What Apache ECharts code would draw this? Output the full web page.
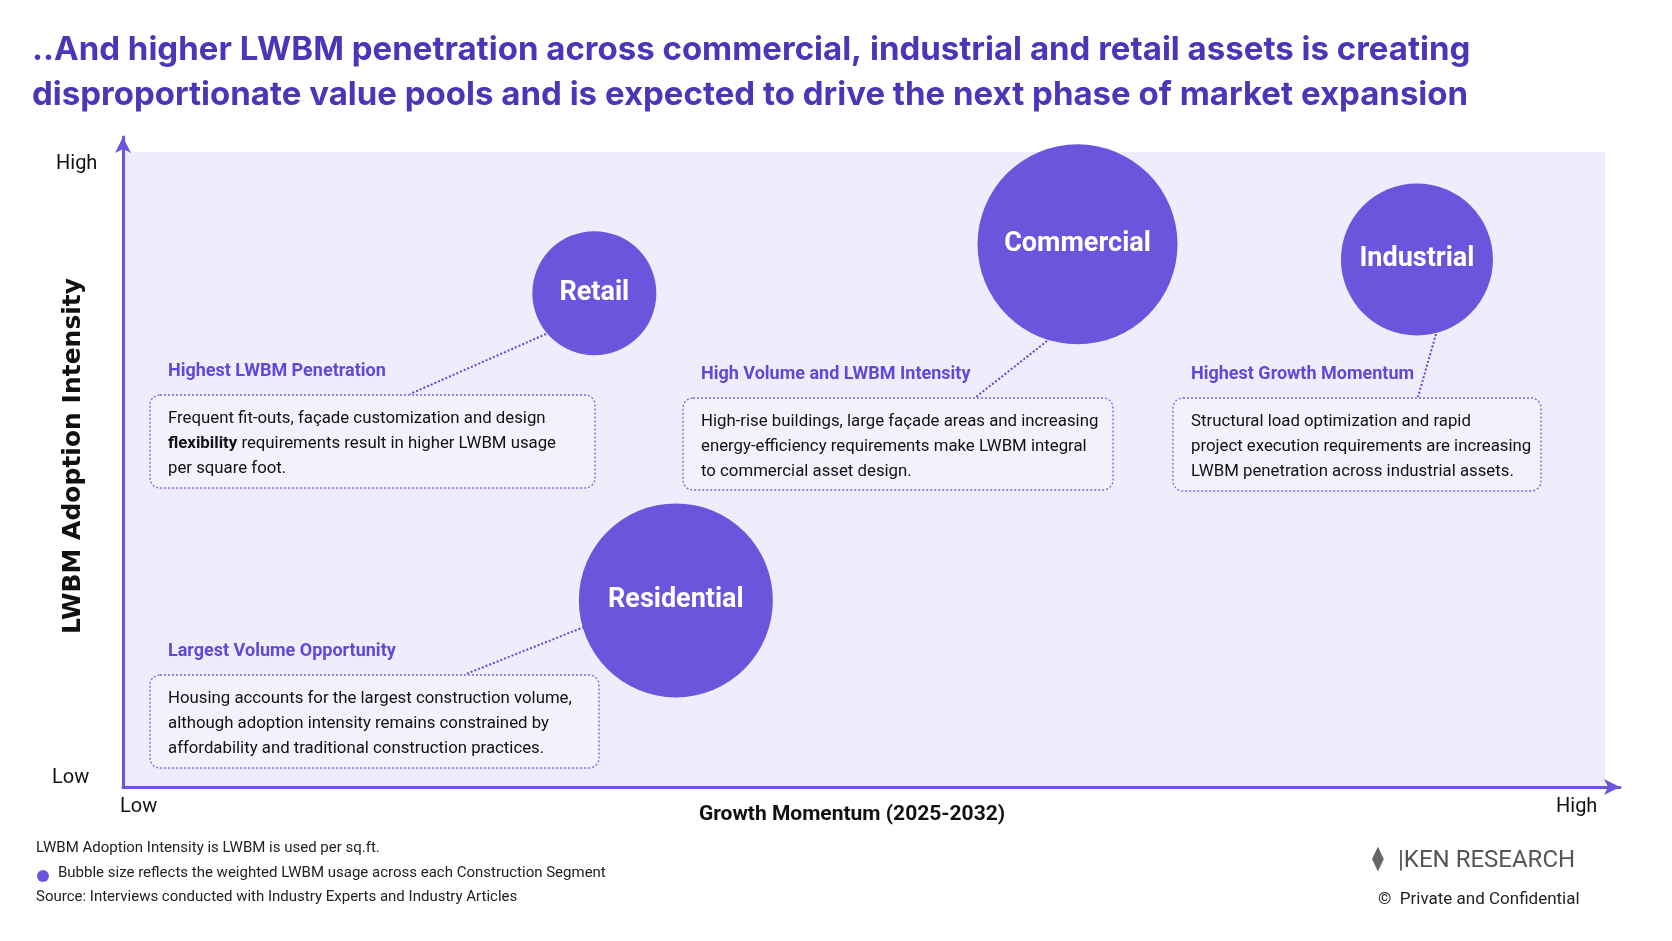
<!DOCTYPE html>
<html>
<head>
<meta charset="utf-8">
<script src="https://cdn.jsdelivr.net/npm/echarts@6/dist/echarts.min.js"></script>
<style>
  html, body { margin: 0; padding: 0; background: #fff; }
  #chart { width: 1672px; height: 941px; }
</style>
</head>
<body>
<div id="chart"></div>
<script>
// segment data (growth momentum 0-10, adoption intensity 0-10, bubble weight)
var segments = ['Retail', 'Commercial', 'Industrial', 'Residential'];
var growth = [3.18, 6.44, 8.73, 3.73];
var intensity = [7.78, 8.55, 8.31, 2.94];
var weight = [62, 100, 76, 97];
var xTicks = ['Low', 'High'];
var yTicks = ['Low', 'High'];

var PURPLE = '#6c55dd';
var DARK = '#4b36b8';
var FONT = '"Liberation Sans Narrow", "Roboto", sans-serif';

var mychart = echarts.init(document.getElementById('chart'));

var data = segments.map(function (s, i) {
    return { name: s, value: [growth[i], intensity[i], weight[i]] };
});

// annotation boxes: [left, top, width, height, title, lines, connector]
var notes = [
    [150, 395, 445, 93, 'Highest LWBM Penetration',
        ['Frequent fit-outs, façade customization and design',
         '{b|flexibility} requirements result in higher LWBM usage',
         'per square foot.'], [546, 334, 410, 394]],
    [683, 398, 430, 92, 'High Volume and LWBM Intensity',
        ['High-rise buildings, large façade areas and increasing',
         'energy-efficiency requirements make LWBM integral',
         'to commercial asset design.'], [1047, 341, 976, 397]],
    [1173, 398, 368, 93, 'Highest Growth Momentum',
        ['Structural load optimization and rapid',
         'project execution requirements are increasing',
         'LWBM penetration across industrial assets.'], [1436, 334, 1418, 397]],
    [150, 675, 449, 93, 'Largest Volume Opportunity',
        ['Housing accounts for the largest construction volume,',
         'although adoption intensity remains constrained by',
         'affordability and traditional construction practices.'], [584, 627, 466, 674]]
];

var graphics = [
    { type: 'rect', z: 0, shape: { x: 123, y: 152, width: 1482, height: 635 }, style: { fill: '#efedfb' } },
    { type: 'text', left: 32, top: 28, style: { text: '..And higher LWBM penetration across commercial, industrial and retail assets is creating\ndisproportionate value pools and is expected to drive the next phase of market expansion',
        font: 'bold 33px Inter, "Noto Sans", sans-serif', fill: DARK, lineHeight: 45 } },
    { type: 'text', left: 56, top: 154, style: { text: yTicks[1], font: '20px ' + FONT, fill: '#111' } },
    { type: 'text', left: 52, top: 768, style: { text: yTicks[0], font: '20px ' + FONT, fill: '#111' } },
    { type: 'text', left: 120, top: 797, style: { text: xTicks[0], font: '20px ' + FONT, fill: '#111' } },
    { type: 'text', left: 1556, top: 797, style: { text: xTicks[1], font: '20px ' + FONT, fill: '#111' } },
    { type: 'text', x: 852, y: 815, style: { text: 'Growth Momentum (2025-2032)', font: 'bold 21px ' + FONT, fill: '#111', align: 'center', verticalAlign: 'middle' } },
    { type: 'text', x: 73, y: 456, rotation: Math.PI / 2, style: { text: 'LWBM Adoption Intensity', font: 'bold 25px "DejaVu Sans", sans-serif', fill: '#111', align: 'center', verticalAlign: 'middle' } },
    { type: 'text', left: 36, top: 841, style: { text: 'LWBM Adoption Intensity is LWBM is used per sq.ft.', font: '15px ' + FONT, fill: '#222' } },
    { type: 'circle', shape: { cx: 43, cy: 876, r: 6 }, style: { fill: PURPLE } },
    { type: 'text', left: 58, top: 866, style: { text: 'Bubble size reflects the weighted LWBM usage across each Construction Segment', font: '15px ' + FONT, fill: '#222' } },
    { type: 'text', left: 36, top: 890, style: { text: 'Source: Interviews conducted with Industry Experts and Industry Articles', font: '15px ' + FONT, fill: '#222' } },
    { type: 'text', left: 1372, top: 848, style: { text: '⧫', font: 'bold 24px "DejaVu Sans"', fill: '#666' } },
    { type: 'text', left: 1398, top: 849, style: { text: '|KEN RESEARCH', font: '24px ' + FONT, fill: '#555' } },
    { type: 'text', left: 1378, top: 891, style: { text: '©  Private and Confidential', font: '17px ' + FONT, fill: '#222' } }
];

notes.forEach(function (n) {
    graphics.push({ type: 'rect', z: 5, shape: { x: n[0], y: n[1], width: n[2], height: n[3], r: 10 },
        style: { fill: '#f3f1fc', stroke: '#7a63de', lineWidth: 1.3, lineDash: [2, 2] } });
    graphics.push({ type: 'text', z: 6, left: n[0] + 18, top: n[1] - 33,
        style: { text: n[4], font: 'bold 18px ' + FONT, fill: '#6247d8' } });
    graphics.push({ type: 'text', z: 6, left: n[0] + 18, top: n[1] + 11,
        style: { text: n[5].join('\n'), font: '16.8px ' + FONT, fill: '#111', lineHeight: 25,
            rich: { b: { fontWeight: 'bold', fontSize: 16.8, fontFamily: FONT, fill: '#111' } } } });
    graphics.push({ type: 'line', z: 6, shape: { x1: n[6][0], y1: n[6][1], x2: n[6][2], y2: n[6][3] },
        style: { stroke: '#6247d8', lineWidth: 2, lineDash: [2, 2] } });
});

var option = {
    grid: { left: 123, right: 52, top: 137, bottom: 154 },
    xAxis: {
        type: 'value', min: 0, max: 10.1,
        axisLine: { show: true, onZero: false, symbol: ['none', 'arrow'], symbolSize: [12, 16], lineStyle: { color: PURPLE, width: 3 } },
        axisTick: { show: false }, axisLabel: { show: false }, splitLine: { show: false }
    },
    yAxis: {
        type: 'value', min: 0, max: 10.24,
        axisLine: { show: true, onZero: false, symbol: ['none', 'arrow'], symbolSize: [12, 16], lineStyle: { color: PURPLE, width: 3 } },
        axisTick: { show: false }, axisLabel: { show: false }, splitLine: { show: false }
    },
    graphic: graphics,
    series: [{
        type: 'scatter',
        z: 10,
        data: data,
        symbolSize: function (v) { return v[2] * 2; },
        itemStyle: { color: PURPLE, opacity: 1 },
        label: {
            show: true, position: 'inside', formatter: '{b}',
            color: '#fff', fontSize: 27, fontWeight: 'bold', fontFamily: FONT
        }
    }]
};
mychart.setOption(option);
</script>
</body>
</html>
